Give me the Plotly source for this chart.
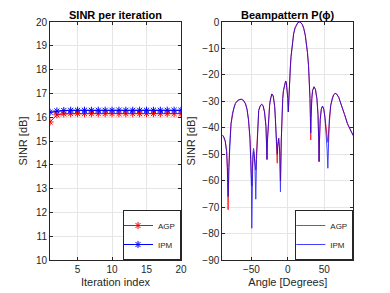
import plotly.graph_objects as go

# ---------------- data ----------------
iterations = list(range(1, 21))
sinr_agp = [15.80, 16.10, 16.14, 16.15, 16.15, 16.15, 16.15, 16.15, 16.15, 16.15,
            16.15, 16.15, 16.15, 16.15, 16.15, 16.15, 16.15, 16.15, 16.15, 16.15]
sinr_ipm = [16.21, 16.26, 16.28, 16.29, 16.29, 16.29, 16.29, 16.29, 16.29, 16.29,
            16.29, 16.29, 16.29, 16.29, 16.29, 16.29, 16.29, 16.29, 16.29, 16.29]

angles = [-90, -88, -86, -84, -83, -82, -81, -80, -78, -76, -74, -72, -70, -67, -64, -61,
          -58, -56, -54, -52, -51, -50, -49.5, -49, -48, -47, -46, -45, -44, -43, -42, -41,
          -40, -38, -36, -34, -32, -30, -29, -28.6, -28, -27, -26, -25, -24, -22, -20, -18,
          -17, -16, -15, -14.5, -14, -12.5, -11, -10.1, -9, -8, -7, -6, -4, -3, -2, -1, 0,
          0.7, 1.5, 2.5, 3.5, 4.5, 5.5, 6.5, 8, 10, 12, 14, 16, 18, 20, 22, 24, 25.5, 27,
          28.5, 29.5, 30.5, 31, 31.5, 32, 33, 34, 36, 38, 40, 41.5, 42.5, 43, 43.5, 44.5,
          46, 47.7, 49.5, 51, 53, 54, 55, 56, 57, 59, 61, 63, 65, 67, 70, 74, 78, 82, 86, 90]

beam_ipm = [-42.7, -43.5, -45, -49, -55, -66, -55, -47, -38.5, -34.5, -32.2, -30.8, -30, -29.4, -29.2, -29.6,
            -31, -33, -37, -44, -52, -62, -78, -58, -50, -47.8, -50, -56, -67, -52, -43, -36.5,
            -33.5, -31.8, -31.1, -31.6, -34, -39.5, -45, -52, -45, -39, -35, -31.5, -29.5, -27.2, -28, -32,
            -37, -42, -48, -50, -47, -44, -50, -64.2, -45, -34, -29, -26, -22.8, -22.3, -22.8, -25, -29,
            -34, -27, -21.5, -17, -13, -9.8, -7.2, -4.5, -2.2, -0.8, -0.15, 0, -0.25, -1, -2.5, -5, -7.8, -11.5,
            -16.5, -21.5, -29, -35, -42, -36, -29, -26, -24.5, -25.5, -29, -35, -45, -52.8, -45, -37,
            -33, -31.8, -33, -36, -42, -48, -55.3, -45, -37, -31.5, -28.8, -27.5, -27, -27.2, -28.5, -31.5, -35, -38.5, -41, -43]

beam_agp = [-42.7, -43.5, -45, -49, -56, -71, -56, -47, -38.5, -34.5, -32.2, -30.8, -30, -29.4, -29.2, -29.6,
            -31, -33, -37, -44, -51, -58, -62, -56, -51, -49, -51, -54, -56, -50, -43, -36.5,
            -33.5, -31.8, -31.1, -31.6, -34, -39.5, -45, -52, -45, -39, -35, -31.5, -29.5, -27.2, -28, -32,
            -37, -43, -49, -53.4, -47, -44, -49, -60, -45, -34, -29, -26, -22.8, -22.3, -22.8, -25, -29,
            -34, -27, -21.5, -17, -13, -9.8, -7.2, -4.5, -2.2, -0.8, -0.15, 0, -0.25, -1, -2.5, -5, -7.8, -11.5,
            -16.5, -21.5, -29, -36, -44.6, -36, -29, -26, -24.5, -25.5, -29, -35, -45, -52.8, -45, -37,
            -33, -31.8, -33, -36, -42, -45, -45.5, -42, -37, -31.5, -28.8, -27.5, -27, -27.2, -28.5, -31.5, -35, -38.5, -41, -43]

RED = "#FF0000"
BLUE = "#0000FF"
AX = "#262626"
GRID = "#E6E6E6"
FONT = "Liberation Sans, Arial, sans-serif"

fig = go.Figure()

fig.add_trace(go.Scatter(x=iterations, y=sinr_agp, name="AGP", mode="lines+markers",
                         line=dict(color=RED, width=1),
                         marker=dict(symbol="asterisk-open", size=6, line=dict(color=RED, width=1)),
                         xaxis="x", yaxis="y", legend="legend"))
fig.add_trace(go.Scatter(x=iterations, y=sinr_ipm, name="IPM", mode="lines+markers",
                         line=dict(color=BLUE, width=1),
                         marker=dict(symbol="asterisk-open", size=6, line=dict(color=BLUE, width=1)),
                         xaxis="x", yaxis="y", legend="legend"))

fig.add_trace(go.Scatter(x=angles, y=beam_agp, name="AGP", mode="lines",
                         line=dict(color=RED, width=1), opacity=0.85,
                         xaxis="x2", yaxis="y2", legend="legend2"))
fig.add_trace(go.Scatter(x=angles, y=beam_ipm, name="IPM", mode="lines",
                         line=dict(color=BLUE, width=1), opacity=0.75,
                         xaxis="x2", yaxis="y2", legend="legend2"))

axis_common = dict(showline=True, linecolor=AX, linewidth=1, mirror="ticks",
                   ticks="inside", ticklen=3, tickcolor=AX, showgrid=True,
                   gridcolor=GRID, gridwidth=1, zeroline=False, automargin=False,
                   tickfont=dict(size=10, color=AX, family=FONT))

fig.update_layout(
    width=390, height=293,
    margin=dict(l=0, r=0, t=0, b=0, autoexpand=False),
    paper_bgcolor="white", plot_bgcolor="white",
    font=dict(family=FONT, color=AX, size=10),
    xaxis=dict(domain=[50/390, 181/390], range=[1, 20], tickvals=[5, 10, 15, 20],
               title=dict(text="Iteration index", font=dict(size=11, color=AX), standoff=4),
               anchor="y", **axis_common),
    yaxis=dict(domain=[1-260/293, 1-22/293], range=[10, 20], dtick=1,
               title=dict(text="SINR [dB]", font=dict(size=11, color=AX), standoff=6),
               anchor="x", **axis_common),
    xaxis2=dict(domain=[222.3/390, 353.3/390], range=[-90, 90], tickvals=[-50, 0, 50],
                title=dict(text="Angle [Degrees]", font=dict(size=11, color=AX), standoff=4),
                anchor="y2", **axis_common),
    yaxis2=dict(domain=[1-260/293, 1-22/293], range=[-90, 0], dtick=10,
                title=dict(text="SINR [dB]", font=dict(size=11, color=AX), standoff=4),
                anchor="x2", **axis_common),
    legend=dict(x=181/390, y=1-260/293, xanchor="right", yanchor="bottom",
                bgcolor="white", bordercolor=AX, borderwidth=1,
                font=dict(size=8, color=AX), itemwidth=30, tracegroupgap=0,
                indentation=-6),
    legend2=dict(x=353.3/390, y=1-260/293, xanchor="right", yanchor="bottom",
                 bgcolor="white", bordercolor=AX, borderwidth=1,
                 font=dict(size=8, color=AX), itemwidth=30, tracegroupgap=0,
                 indentation=-6),
    showlegend=True,
    annotations=[
        dict(text="<b>SINR per iteration</b>", x=(50+181)/2/390, y=1-15/293,
             xref="paper", yref="paper", showarrow=False, xanchor="center", yanchor="middle",
             font=dict(size=11, color="black")),
        dict(text="<b>Beampattern P(ϕ)</b>", x=(222.3+353.3)/2/390, y=1-15/293,
             xref="paper", yref="paper", showarrow=False, xanchor="center", yanchor="middle",
             font=dict(size=11, color="black")),
    ],
)

fig.write_html("out.html",
               config={"displayModeBar": False},
               post_script="document.body.style.margin='0';document.body.style.padding='0';")
